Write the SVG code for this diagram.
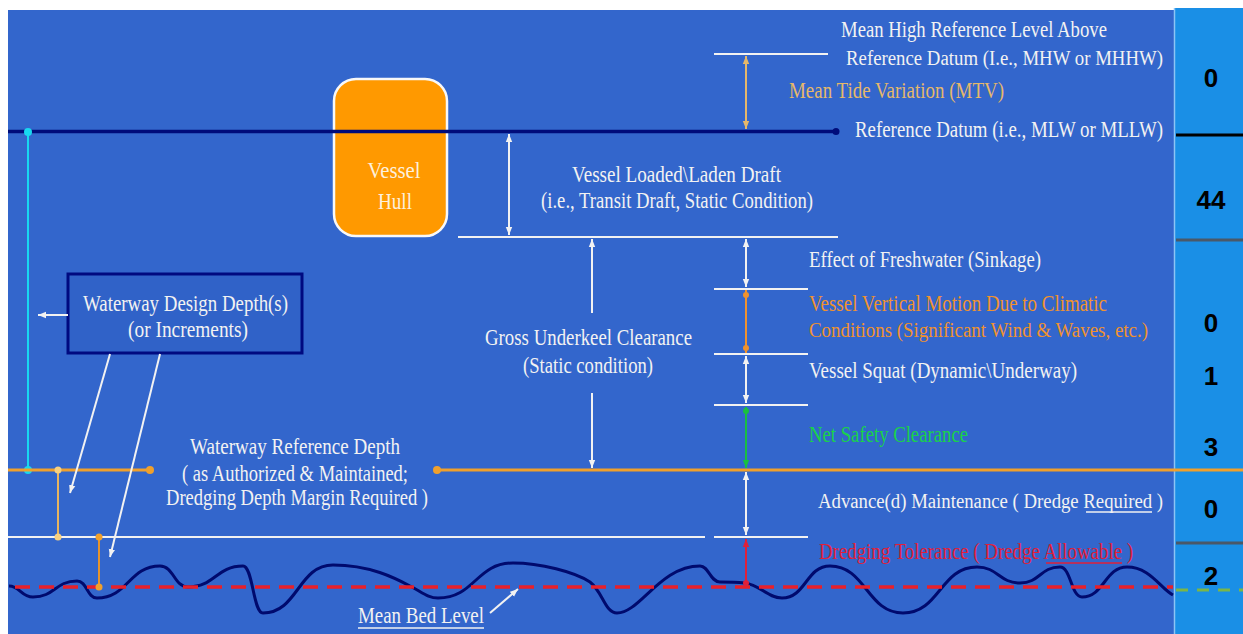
<svg xmlns="http://www.w3.org/2000/svg" width="1243" height="634" viewBox="0 0 1243 634">
<defs>
<style>
.t{font-family:"Liberation Serif","Times New Roman",serif;font-size:23px;fill:#f2f2f2}
.s{font-size:20px}
.c{text-anchor:middle}
.tan{fill:#e6b86a}
.org{fill:#f0922e}
.grn{fill:#19d24a}
.red{fill:#e0203a}
.num{font-family:"Liberation Sans",Arial,sans-serif;font-weight:bold;font-size:26px;fill:#000;text-anchor:middle}
.w{stroke:#f2f2f2;stroke-width:2;fill:none}
.tick{stroke:#f2f2f2;stroke-width:2}
</style>
<marker id="aw" viewBox="0 0 10 10" refX="10" refY="5" markerWidth="8" markerHeight="8" markerUnits="userSpaceOnUse" orient="auto-start-reverse"><path d="M0,1 L10,5 L0,9 z" fill="#f2f2f2"/></marker>
<marker id="at" viewBox="0 0 10 10" refX="10" refY="5" markerWidth="8" markerHeight="8" markerUnits="userSpaceOnUse" orient="auto-start-reverse"><path d="M0,1 L10,5 L0,9 z" fill="#e6b86a"/></marker>
<marker id="ag" viewBox="0 0 10 10" refX="10" refY="5" markerWidth="8" markerHeight="8" markerUnits="userSpaceOnUse" orient="auto-start-reverse"><path d="M0,1 L10,5 L0,9 z" fill="#19c040"/></marker>
<marker id="ar" viewBox="0 0 10 10" refX="10" refY="5" markerWidth="8" markerHeight="8" markerUnits="userSpaceOnUse" orient="auto-start-reverse"><path d="M0,1 L10,5 L0,9 z" fill="#e0203a"/></marker>
</defs>

<g id="background">
<rect x="0" y="0" width="1243" height="634" fill="#ffffff"/>
<rect x="8" y="10" width="1167" height="624" fill="#3366cc"/>
<rect x="1175" y="8" width="68" height="626" fill="#1a8fe6"/>
<line x1="1174.5" y1="8" x2="1174.5" y2="634" stroke="#8cc4f5" stroke-width="1.5"/>
<line x1="1176" y1="135" x2="1243" y2="135" stroke="#000000" stroke-width="3"/>
<line x1="1176" y1="240" x2="1243" y2="240" stroke="#4a5868" stroke-width="3"/>
<line x1="1176" y1="543" x2="1243" y2="543" stroke="#4a5868" stroke-width="3"/>
<line x1="1176" y1="590" x2="1243" y2="590" stroke="#7ab648" stroke-width="3" stroke-dasharray="12 9"/>
</g>

<g id="bed">
<path d="M9,586 C20,586 21,597 33,597 C55,597 55,581 77,581 C87,581 87,598 97,598 C128,598 129,566 160,566 C174,566 174,587 188,587 C215,587 216,566 243,566 C253,566 253,613 263,613 C298,613 298,565 333,565 C370,565 395,578 410,586 C422,592 428,598 438,598 C475,598 476,563 513,563 C540,563 575,572 590,582 C603,592 605,613 617,613 C640,613 660,566 700,566 C709,566 710,582 720,582 C730,582 735,582 745,583 C760,585 768,598 782,598 C806,598 806,566 830,566 C866,566 867,613 903,613 C940,613 940,567 977,567 C998,567 999,583 1020,583 C1040,583 1040,567 1060,567 C1071,567 1071,597 1082,597 C1104,597 1105,567 1127,567 C1150,567 1160,588 1173,595" fill="none" stroke="#000a6e" stroke-width="3"/>
<line x1="15" y1="587" x2="1173" y2="587" stroke="#e8202a" stroke-width="3.5" stroke-dasharray="15 9"/>
</g>

<g id="vessel-hull">
<rect x="334" y="79" width="113" height="157" rx="22" fill="#ff9900" stroke="#f8f8f8" stroke-width="2.5"/>
<text class="t c" x="394" y="178" textLength="53" lengthAdjust="spacingAndGlyphs" style="fill:#fdf0dc">Vessel</text>
<text class="t c" x="395" y="209" textLength="34" lengthAdjust="spacingAndGlyphs" style="fill:#fdf0dc">Hull</text>
</g>

<g id="design-depth">
<rect x="68" y="274" width="234" height="79" fill="#3062c8" stroke="#000a80" stroke-width="3"/>
<text class="t c" x="185.5" y="311" textLength="205" lengthAdjust="spacingAndGlyphs">Waterway Design Depth(s)</text>
<text class="t c" x="188" y="337" textLength="120" lengthAdjust="spacingAndGlyphs">(or Increments)</text>
</g>

<g id="connectors">
<line x1="8" y1="131.5" x2="836" y2="131.5" stroke="#000c7a" stroke-width="3.5"/>
<circle cx="836" cy="131.5" r="3.5" fill="#000c7a"/>
<line x1="28" y1="132" x2="28" y2="470" stroke="#18d8f0" stroke-width="2"/>
<circle cx="28" cy="132" r="4" fill="#18d8f0"/>
<circle cx="28" cy="470" r="4" fill="#18d8f0"/>

<line class="tick" x1="714" y1="54" x2="828" y2="54"/>
<line x1="746" y1="56" x2="746" y2="129" stroke="#e6b86a" stroke-width="2" marker-start="url(#at)" marker-end="url(#at)"/>

<line class="tick" x1="458" y1="237" x2="838" y2="237"/>
<line class="w" x1="509" y1="134" x2="509" y2="235" marker-start="url(#aw)" marker-end="url(#aw)"/>
<line class="w" x1="746" y1="239" x2="746" y2="287" marker-start="url(#aw)" marker-end="url(#aw)"/>
<line class="tick" x1="714" y1="289" x2="808" y2="289"/>
<line x1="746" y1="290" x2="746" y2="353" stroke="#f0922e" stroke-width="2"/>
<circle cx="746" cy="295" r="3" fill="#f0922e"/>
<circle cx="746" cy="348" r="3" fill="#f0922e"/>
<line class="tick" x1="714" y1="354" x2="808" y2="354"/>
<line class="w" x1="746" y1="356" x2="746" y2="403" marker-start="url(#aw)" marker-end="url(#aw)"/>
<line class="tick" x1="714" y1="405" x2="808" y2="405"/>
<line x1="746" y1="407" x2="746" y2="468" stroke="#19c040" stroke-width="2" marker-end="url(#ag)"/>
<circle cx="746" cy="411" r="3" fill="#19c040"/>

<line class="w" x1="592" y1="313" x2="592" y2="239" marker-end="url(#aw)"/>
<line class="w" x1="592" y1="393" x2="592" y2="468" marker-end="url(#aw)"/>

<line x1="8" y1="470" x2="150" y2="470" stroke="#f0a02c" stroke-width="3"/>
<circle cx="150" cy="470" r="4" fill="#f0a02c"/>
<line x1="437" y1="470" x2="1243" y2="470" stroke="#f0a02c" stroke-width="3"/>
<circle cx="437" cy="470" r="4" fill="#f0a02c"/>

<line class="w" x1="746" y1="472" x2="746" y2="535" marker-start="url(#aw)" marker-end="url(#aw)"/>
<line class="tick" x1="8" y1="537" x2="705" y2="537"/>
<line class="tick" x1="714" y1="537" x2="808" y2="537"/>
<line x1="746" y1="539" x2="746" y2="584" stroke="#e0203a" stroke-width="2" marker-start="url(#ar)"/>
<circle cx="746" cy="583" r="3" fill="#e0203a"/>

<line x1="58" y1="470" x2="58" y2="537" stroke="#e8b460" stroke-width="2"/>
<circle cx="58" cy="470" r="3.5" fill="#f7d080"/>
<circle cx="58" cy="537" r="3.5" fill="#f7d080"/>
<line x1="99" y1="537" x2="99" y2="587" stroke="#e8942a" stroke-width="2"/>
<circle cx="99" cy="537" r="3.5" fill="#f0a02c"/>
<circle cx="99" cy="587" r="3.5" fill="#f0a02c"/>

<line class="w" x1="68" y1="315" x2="38" y2="315" marker-end="url(#aw)"/>
<line class="w" x1="110" y1="354" x2="70" y2="493" marker-end="url(#aw)"/>
<line class="w" x1="160" y1="354" x2="110" y2="557" marker-end="url(#aw)"/>
<line class="w" x1="490" y1="613" x2="518" y2="589" marker-end="url(#aw)"/>
</g>

<g id="label-mean-high">
<text class="t" x="841" y="37" textLength="266" lengthAdjust="spacingAndGlyphs">Mean High Reference Level Above</text>
<text class="t s" x="846" y="65" textLength="317" lengthAdjust="spacingAndGlyphs">Reference Datum (I.e., MHW or MHHW)</text>
</g>
<g id="label-mtv"><text class="t tan" x="789" y="98" textLength="215" lengthAdjust="spacingAndGlyphs">Mean Tide Variation (MTV)</text></g>
<g id="label-ref-datum"><text class="t" x="855" y="137" textLength="308" lengthAdjust="spacingAndGlyphs">Reference Datum (i.e., MLW or MLLW)</text></g>
<g id="label-draft">
<text class="t c" x="676.5" y="182" textLength="209" lengthAdjust="spacingAndGlyphs">Vessel Loaded\Laden Draft</text>
<text class="t c" x="677" y="208" textLength="272" lengthAdjust="spacingAndGlyphs">(i.e., Transit Draft, Static Condition)</text>
</g>
<g id="label-freshwater"><text class="t" x="809" y="267" textLength="232" lengthAdjust="spacingAndGlyphs">Effect of Freshwater (Sinkage)</text></g>
<g id="label-motion">
<text class="t org" x="809" y="311" textLength="298" lengthAdjust="spacingAndGlyphs">Vessel Vertical Motion Due to Climatic</text>
<text class="t s org" x="809" y="337" textLength="339" lengthAdjust="spacingAndGlyphs">Conditions (Significant Wind &amp; Waves, etc.)</text>
</g>
<g id="label-squat"><text class="t" x="809" y="378" textLength="268" lengthAdjust="spacingAndGlyphs">Vessel Squat (Dynamic\Underway)</text></g>
<g id="label-net-safety"><text class="t grn" x="809" y="442" textLength="159" lengthAdjust="spacingAndGlyphs">Net Safety Clearance</text></g>
<g id="label-gross">
<text class="t c" x="588.5" y="345" textLength="207" lengthAdjust="spacingAndGlyphs">Gross Underkeel Clearance</text>
<text class="t c" x="588" y="373" textLength="130" lengthAdjust="spacingAndGlyphs">(Static condition)</text>
</g>
<g id="label-ref-depth">
<text class="t c" x="295" y="454" textLength="210" lengthAdjust="spacingAndGlyphs">Waterway Reference Depth</text>
<text class="t c" x="295" y="481" textLength="226" lengthAdjust="spacingAndGlyphs">( as Authorized &amp; Maintained;</text>
<text class="t c" x="297" y="505" textLength="262" lengthAdjust="spacingAndGlyphs">Dredging Depth Margin Required )</text>
</g>
<g id="label-advance">
<text class="t s" x="818" y="508" textLength="345" lengthAdjust="spacingAndGlyphs">Advance(d) Maintenance ( Dredge Required )</text>
<line x1="1086" y1="512" x2="1152" y2="512" stroke="#f2f2f2" stroke-width="1.3"/>
</g>
<g id="label-tolerance">
<text class="t red" x="819" y="559" textLength="314" lengthAdjust="spacingAndGlyphs">Dredging Tolerance ( Dredge Allowable )</text>
<line x1="1046" y1="563" x2="1122" y2="563" stroke="#e0203a" stroke-width="1.3"/>
</g>
<g id="label-bed">
<text class="t c" x="421" y="623" textLength="126" lengthAdjust="spacingAndGlyphs">Mean Bed Level</text>
<line x1="358" y1="628" x2="484" y2="628" stroke="#f2f2f2" stroke-width="1.3"/>
</g>

<g id="scale-numbers">
<text class="num" x="1211" y="87">0</text>
<text class="num" x="1211" y="209">44</text>
<text class="num" x="1211" y="332">0</text>
<text class="num" x="1211" y="385">1</text>
<text class="num" x="1211" y="456">3</text>
<text class="num" x="1211" y="518">0</text>
<text class="num" x="1211" y="585">2</text>
</g>
</svg>
